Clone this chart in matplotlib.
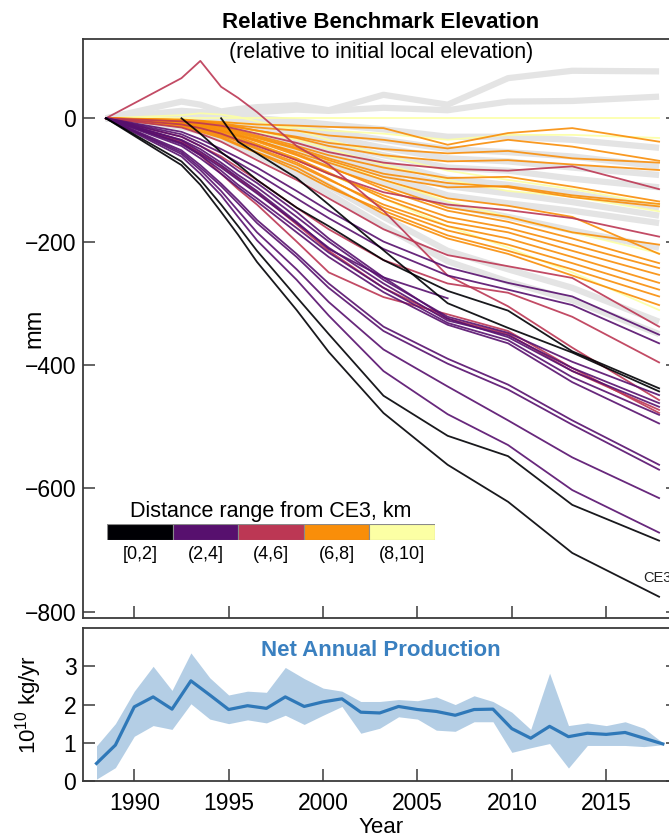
import matplotlib
matplotlib.use("Agg")
import matplotlib.pyplot as plt
import numpy as np

plt.rcParams['font.family'] = ['Liberation Sans', 'DejaVu Sans']
plt.rcParams['mathtext.fontset'] = 'custom'
plt.rcParams['mathtext.rm'] = 'Liberation Sans'
plt.rcParams['mathtext.it'] = 'Liberation Sans:italic'

nan = np.nan

# survey epochs of the benchmark levelling
survey_years = [1988.5, 1992.5, 1993.5, 1994.6, 1995.5, 1996.5, 1998.6,
                2000.3, 2003.2, 2006.6, 2009.8, 2013.2, 2017.8]

# benchmark elevation change (mm), grouped by distance from CE3
bm_0_2 = [
    [0, -76, -108, -152, -189, -233, -311, -379, -478, -562, -622, -705, -776],
    [0, -70, -100, -140, -175, -215, -290, -350, -450, -515, -548, -627, -685],
    [nan, 0, -25, -55, -75, -100, -145, -175, -230, -280, -312, -378, -438],
    [nan, nan, nan, 0, -38, -57, -97, -140, -214, -300, -340, -380, -443],
]
bm_2_4 = [
    [0, -62, -90, -125, -160, -198, -262, -320, -410, -480, -530, -603, -672],
    [0, -58, -84, -118, -150, -185, -245, -298, -375, -435, -490, -550, -616],
    [0, -55, -80, -110, -138, -170, -225, -275, -345, -398, -440, -497, -570],
    [0, -52, -76, -106, -133, -165, -220, -268, -338, -390, -432, -490, -562],
    [0, -35, -50, -72, -92, -112, -160, -200, -262, -322, -348, -395, -449],
    [0, -40, -58, -80, -100, -122, -170, -210, -268, -328, -352, -405, -462],
    [0, -30, -45, -65, -85, -105, -152, -195, -258, -325, -355, -410, -468],
    [0, -42, -60, -85, -108, -130, -178, -218, -275, -332, -360, -420, -481],
    [0, -45, -65, -90, -112, -135, -185, -225, -282, -335, -365, -428, -495],
    [0, -22, -34, -50, -64, -80, -118, -150, -200, -242, -267, -289, -351],
    [0, -26, -40, -56, -72, -90, -130, -162, -212, -255, -278, -303, -365],
    [0, -36, -54, -76, -96, -118, -168, -212, -258, -292, nan, nan, nan],
]
bm_4_6 = [
    [0, 65, 93, 51, 33, 10, -45, -75, -150, -255, -305, -372, -457],
    [0, -5, -8, -12, -18, -25, -40, -55, -72, -82, -85, -78, -115],
    [0, -10, -16, -25, -35, -45, -68, -90, -120, -140, -149, -162, -192],
    [0, -15, -25, -38, -52, -68, -100, -130, -180, -222, -240, -259, -338],
    [0, -30, -45, -62, -80, -100, -145, -180, -230, -268, -283, -322, -396],
    [0, -38, -56, -78, -98, -120, -172, -215, -275, -325, -350, -410, -473],
    [0, -40, -60, -90, -115, -140, -200, -250, -290, -318, -345, -405, -478],
]
bm_6_8 = [
    [0, -2, -4, -6, -8, -10, -12, -14, -16, -43, -24, -16, -38],
    [0, -3, -5, -8, -12, -15, -20, -28, -35, -49, -35, -46, -69],
    [0, -4, -6, -10, -15, -20, -30, -40, -50, -57, -53, -65, -72],
    [0, -3, -5, -9, -14, -20, -32, -45, -60, -70, -68, -75, -84],
    [0, -5, -8, -14, -20, -28, -45, -60, -80, -97, -95, -111, -135],
    [0, -6, -10, -16, -24, -32, -50, -68, -95, -112, -110, -125, -139],
    [0, -4, -8, -14, -22, -30, -48, -65, -90, -105, -112, -128, -143],
    [0, -8, -12, -20, -28, -38, -60, -80, -110, -145, -160, -185, -205],
    [0, -6, -10, -18, -26, -35, -58, -78, -115, -150, -168, -195, -235],
    [0, -10, -15, -24, -33, -44, -68, -90, -125, -160, -178, -205, -243],
    [0, -8, -14, -22, -30, -42, -65, -88, -130, -168, -185, -215, -254],
    [0, -12, -18, -28, -38, -50, -75, -100, -140, -175, -195, -225, -267],
    [0, -10, -16, -26, -36, -48, -72, -98, -145, -182, -205, -235, -278],
    [0, -14, -22, -32, -44, -56, -85, -112, -150, -190, -215, -245, -289],
    [0, -12, -20, -30, -42, -55, -80, -108, -155, -195, -220, -255, -303],
    [0, -7, -12, -20, -28, -36, -55, -72, -100, -130, -142, -160, -220],
]
bm_8_10 = [
    [0, 0, 0, 0, 0, 0, 0, 0, 0, 0, 0, 0, 0],
    [0, -2, -4, -6, -8, -10, -15, -20, -25, -35, -27, -27, -32],
    [0, -3, -6, -10, -15, -22, -35, -50, -75, -100, -118, -127, -151],
    [0, -5, -10, -16, -24, -32, -50, -68, -100, -135, -160, -185, -219],
    [0, -8, -14, -22, -32, -42, -65, -90, -130, -175, -210, -250, -311],
    [0, 5, 8, 6, 2, -5, -20, -35, -60, -85, -100, -115, -140],
]
bm_far = [
    [0, 27, 22, 11, 15, 18, 21, 13, 38, 22, 65, 77, 76],
    [0, 12, 10, 8, 8, 10, 14, 12, 17, 13, 27, 28, 35],
    [0, 10, 8, 5, 2, 0, -5, -10, -18, -30, -30, -35, -48],
    [0, 6, 5, 2, -2, -5, -12, -22, -35, -50, -55, -62, -78],
    [0, 4, 2, -3, -8, -12, -20, -30, -48, -65, -70, -80, -92],
    [0, 2, 0, -5, -10, -16, -28, -40, -60, -80, -85, -98, -112],
    [0, 0, -4, -9, -15, -20, -34, -48, -72, -98, -108, -122, -145],
    [0, -2, -7, -12, -18, -25, -40, -56, -82, -110, -122, -136, -158],
    [0, -4, -10, -16, -24, -32, -52, -72, -105, -140, -160, -182, -210],
    [0, -12, -20, -30, -40, -52, -82, -110, -160, -215, -245, -275, -330],
    [0, -14, -22, -34, -46, -60, -92, -122, -175, -232, -265, -295, -350],
    [0, -3, -8, -14, -20, -28, -45, -62, -92, -125, -138, -150, -170],
]

dist_labels = ['[0,2]', '(2,4]', '(4,6]', '(6,8]', '(8,10]']

# net annual production, 1e10 kg/yr
prod_years = list(range(1988, 2019))
prod_mid = [0.46, 0.94, 1.94, 2.2, 1.88, 2.62, 2.25, 1.87, 1.97, 1.9, 2.2,
            1.95, 2.07, 2.15, 1.8, 1.78, 1.95, 1.87, 1.82, 1.72, 1.87, 1.88,
            1.37, 1.12, 1.43, 1.16, 1.25, 1.22, 1.27, 1.12, 0.97]
prod_low = [0.05, 0.35, 1.17, 1.45, 1.35, 2.02, 1.62, 1.5, 1.6, 1.52, 1.72,
            1.48, 1.72, 1.95, 1.25, 1.38, 1.68, 1.62, 1.33, 1.3, 1.55, 1.55,
            0.75, 0.87, 0.98, 0.34, 0.93, 0.93, 0.93, 0.9, 0.95]
prod_high = [0.92, 1.5, 2.35, 3.0, 2.37, 3.35, 2.7, 2.25, 2.35, 2.32, 2.97,
             2.68, 2.43, 2.35, 2.08, 2.08, 2.13, 2.1, 2.2, 2.0, 2.23, 2.08,
             1.8, 1.35, 2.82, 1.45, 1.52, 1.45, 1.55, 1.38, 1.0]

colors = plt.cm.inferno([0.0, 0.25, 0.5, 0.75, 1.0])
spine_c = '#3a3a3a'

fig = plt.figure(figsize=(6.69, 8.40), dpi=100)
ax1 = fig.add_axes([0.1245, 0.2639, 0.8889, 0.6893])
ax2 = fig.add_axes([0.1245, 0.0702, 0.8889, 0.1821])

# ---- top panel
for line in bm_far:
    ax1.plot(survey_years, line, color='#e4e4e4', lw=4.5, solid_capstyle='butt',
             solid_joinstyle='round', zorder=1)
groups = [bm_8_10, bm_6_8, bm_4_6, bm_2_4, bm_0_2]
for gi, grp in enumerate(groups):
    c = colors[4 - gi]
    for line in grp:
        ax1.plot(survey_years, line, color=c, lw=1.3, alpha=0.9, zorder=2 + gi)

ax1.text(2016.95, -745, 'CE3', fontsize=10.5, color='#222222', ha='left', va='center')
ax1.text(0.5, 0.978, '(relative to initial local elevation)', transform=ax1.transAxes,
         ha='center', va='center', fontsize=15.5)
fig.text(381 / 669, 1 - 23 / 840, 'Relative Benchmark Elevation', ha='center',
         va='center', fontsize=16, fontweight='bold')

ax1.set_xlim(1987.3, 2018.8)
ax1.set_ylim(-811, 128)
ax1.set_yticks([-800, -600, -400, -200, 0])
ax1.set_xticks([1990, 1995, 2000, 2005, 2010, 2015])
ax1.tick_params(axis='x', labelbottom=False)
ax1.set_ylabel('mm', fontsize=17)
ax1.yaxis.set_label_coords(-0.063, 0.5)

# ---- bottom panel
bc = '#2f78b8'
ax2.fill_between(prod_years, prod_low, prod_high, color=bc, alpha=0.36, lw=0)
ax2.plot(prod_years, prod_mid, color=bc, lw=2.3)
ax2.text(0.5, 0.856, 'Net Annual Production', transform=ax2.transAxes, ha='center',
         va='center', fontsize=16, fontweight='bold', color='#3a80c0')
ax2.set_xlim(1987.3, 2018.8)
ax2.set_ylim(0, 4)
ax2.set_yticks([0, 1, 2, 3])
ax2.set_xticks([1990, 1995, 2000, 2005, 2010, 2015])
ax2.set_xlabel('Year', fontsize=16, labelpad=1)
ax2.set_ylabel('10$^{10}$ kg/yr', fontsize=16)
ax2.yaxis.set_label_coords(-0.066, 0.5)

for ax in (ax1, ax2):
    for s in ax.spines.values():
        s.set_color(spine_c)
        s.set_linewidth(1.3)
    ax.tick_params(direction='in', length=8.5, width=1.1, color=spine_c,
                   labelsize=16.5, right=True, top=False, pad=5)
    ax.tick_params(axis='x', pad=8)

# ---- distance legend
cax = fig.add_axes([107 / 669, 1 - 540 / 840, (435 - 107) / 669, 16 / 840])
cax.bar(range(5), [1] * 5, width=1.0, color=colors, edgecolor='#8a8a8a', lw=0.8)
cax.set_xlim(-0.5, 4.5)
cax.set_ylim(0, 1)
cax.set_xticks(range(5))
cax.set_xticklabels(dist_labels, fontsize=13)
cax.set_yticks([])
cax.tick_params(length=0, pad=4)
for s in cax.spines.values():
    s.set_visible(False)
cax.set_title('Distance range from CE3, km', fontsize=15.5, pad=5)

fig.savefig('out.png', dpi=100)
